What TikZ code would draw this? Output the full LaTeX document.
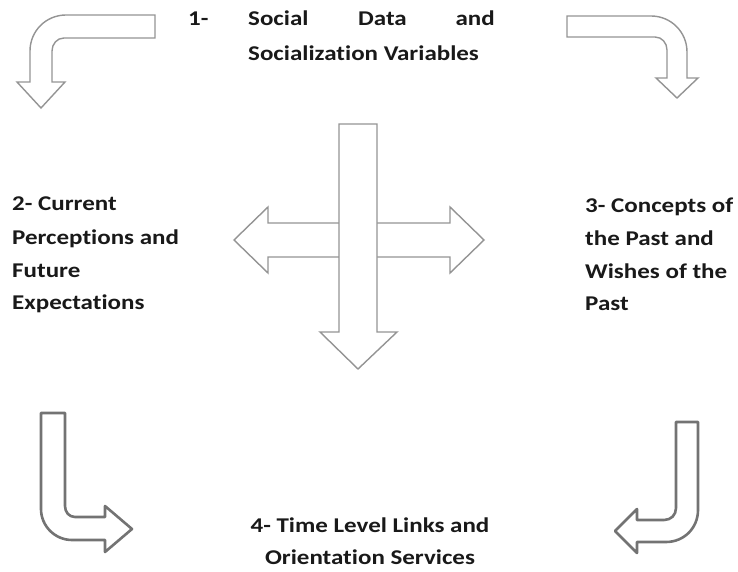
\documentclass[tikz,border=0pt]{standalone}
\usepackage{fontspec}
\setmainfont{Carlito}[FakeStretch=1.19,Ligatures=NoCommon]
\begin{document}
\begin{tikzpicture}[x=1pt,y=-1pt,
  lightarrow/.style={draw=black!42,line width=1.4pt,fill=white,line join=miter},
  darkarrow/.style={draw=black!55,line width=2.6pt,fill=white,line join=round},
  lbl/.style={anchor=base west,inner sep=0pt,text=black!90,font=\fontsize{21}{25}\selectfont\bfseries}]
\useasboundingbox (0,0) rectangle (738,572);
% top-left arrow
\draw[lightarrow] (155,15) -- (66,15) .. controls (46,15) and (30,31) .. (30,51)
  -- (30,82) -- (17,82) -- (41,108) -- (65,82) -- (52,82) -- (52,51)
  .. controls (52,44) and (57,38) .. (64,38) -- (155,38) -- cycle;
% top-right arrow
\draw[lightarrow] (567,16) -- (651,16) .. controls (671,16) and (687,32) .. (687,52)
  -- (687,78) -- (698,78) -- (677,98) -- (656,78) -- (667,78) -- (667,50)
  .. controls (667,43) and (662,37) .. (655,37) -- (567,37) -- cycle;
% centre cross
\draw[lightarrow] (234,240) -- (268,207) -- (268,223) -- (450,223) -- (450,207)
  -- (484,240) -- (450,273) -- (450,257) -- (268,257) -- (268,273) -- cycle;
\draw[lightarrow] (339,124) -- (377,124) -- (377,332) -- (397,332) -- (358,369)
  -- (320,332) -- (339,332) -- cycle;
% bottom-left arrow
\draw[darkarrow] (41,413) -- (65,413) -- (65,506) .. controls (65,512) and (69,517) .. (75,517)
  -- (105,517) -- (105,506) -- (132,529) -- (105,552) -- (105,540) -- (72,540)
  .. controls (55,540) and (41,526) .. (41,509) -- cycle;
% bottom-right arrow
\draw[darkarrow] (676,422) -- (698,422) -- (698,510) .. controls (698,528) and (684,542) .. (666,542)
  -- (637,542) -- (637,553) -- (615,531) -- (637,509) -- (637,520) -- (664,520)
  .. controls (671,520) and (676,515) .. (676,508) -- cycle;
% texts
\node[lbl] (t1a) at (188,26) {1-};
\node[lbl] (t1b) at (248,26) {Social};
\node[lbl] (t1c) at (358,26) {Data};
\node[lbl,anchor=base east] (t1d) at (495,26) {and};
\node[lbl] (t1e) at (248,61) {Socialization Variables};
\node[lbl] (t2a) at (12,210) {2- Current};
\node[lbl] (t2b) at (12,244) {Perceptions and};
\node[lbl] (t2c) at (12,277) {Future};
\node[lbl] (t2d) at (12,309) {Expectations};
\node[lbl] (t3a) at (585,212) {3- Concepts of};
\node[lbl] (t3b) at (585,245) {the Past and};
\node[lbl] (t3c) at (585,278) {Wishes of the};
\node[lbl] (t3d) at (585,310) {Past};
\node[lbl,anchor=base] (t4a) at (370,532) {4- Time Level Links and};
\node[lbl,anchor=base] (t4b) at (370,564) {Orientation Services};
\end{tikzpicture}
\end{document}
